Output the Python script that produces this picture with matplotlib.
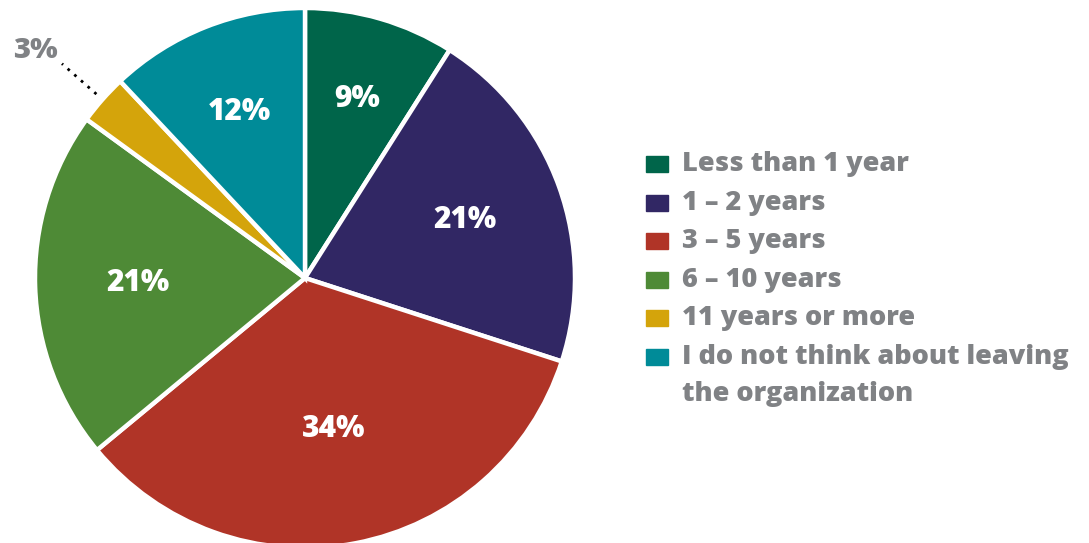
import numpy as np
import matplotlib.pyplot as plt
from matplotlib.patches import Rectangle

# share of respondents by how long they expect to stay
categories = ["Less than 1 year", "1 \u2013 2 years", "3 \u2013 5 years",
              "6 \u2013 10 years", "11 years or more",
              "I do not think about leaving\nthe organization"]
shares = [9, 21, 34, 21, 3, 12]
colors = ["#00654a", "#312764", "#b03427", "#4e8a36", "#d4a40b", "#008b98"]

W, H = 1089, 543
GREY = '#808285'
plt.rcParams['font.family'] = ['Open Sans', 'DejaVu Sans']

fig = plt.figure(figsize=(W / 100, H / 100), dpi=100)
ax = fig.add_axes([0, 0, 1, 1])

cx, cy, R = 305, H - 278, 270
wedges, _ = ax.pie(shares, colors=colors, startangle=90, counterclock=False,
                   center=(cx, cy), radius=R, frame=True,
                   wedgeprops=dict(edgecolor='white', linewidth=3.2))
ax.set_xlim(0, W)
ax.set_ylim(0, H)
ax.set_aspect('equal')
ax.axis('off')

# percentage labels inside slices
label_r = [0.69, 0.63, 0.57, 0.62, None, 0.66]
cum = np.cumsum([0] + shares)
for i, s in enumerate(shares):
    mid = np.deg2rad(90 - (cum[i] + s / 2) * 3.6)
    if label_r[i] is None:
        # small slice: label outside with a dotted leader
        x0, y0 = cx + 1.03 * R * np.cos(mid), cy + 1.03 * R * np.sin(mid)
        x1, y1 = cx + 1.2 * R * np.cos(mid), cy + 1.2 * R * np.sin(mid)
        ax.plot([x0, x1], [y0, y1], color='black', linestyle=(0, (1, 2.2)),
                linewidth=2)
        ax.text(35, H - 51, f"{s}%", color=GREY, fontsize=21,
                fontweight='heavy', ha='center', va='center')
        continue
    x = cx + label_r[i] * R * np.cos(mid)
    y = cy + label_r[i] * R * np.sin(mid)
    ax.text(x, y, f"{s}%", color='white', fontsize=21.5, fontweight='heavy',
            ha='center', va='center')

# legend
ly = 164
for cat, col in zip(categories, colors):
    ax.add_patch(Rectangle((646, H - ly - 8), 22, 16, color=col))
    for k, line in enumerate(cat.split('\n')):
        ax.text(682, H - ly - k * 37, line, color=GREY, fontsize=19.5,
                fontweight='heavy', ha='left', va='center')
    ly += 38.6

fig.savefig("out.png", dpi=100)
